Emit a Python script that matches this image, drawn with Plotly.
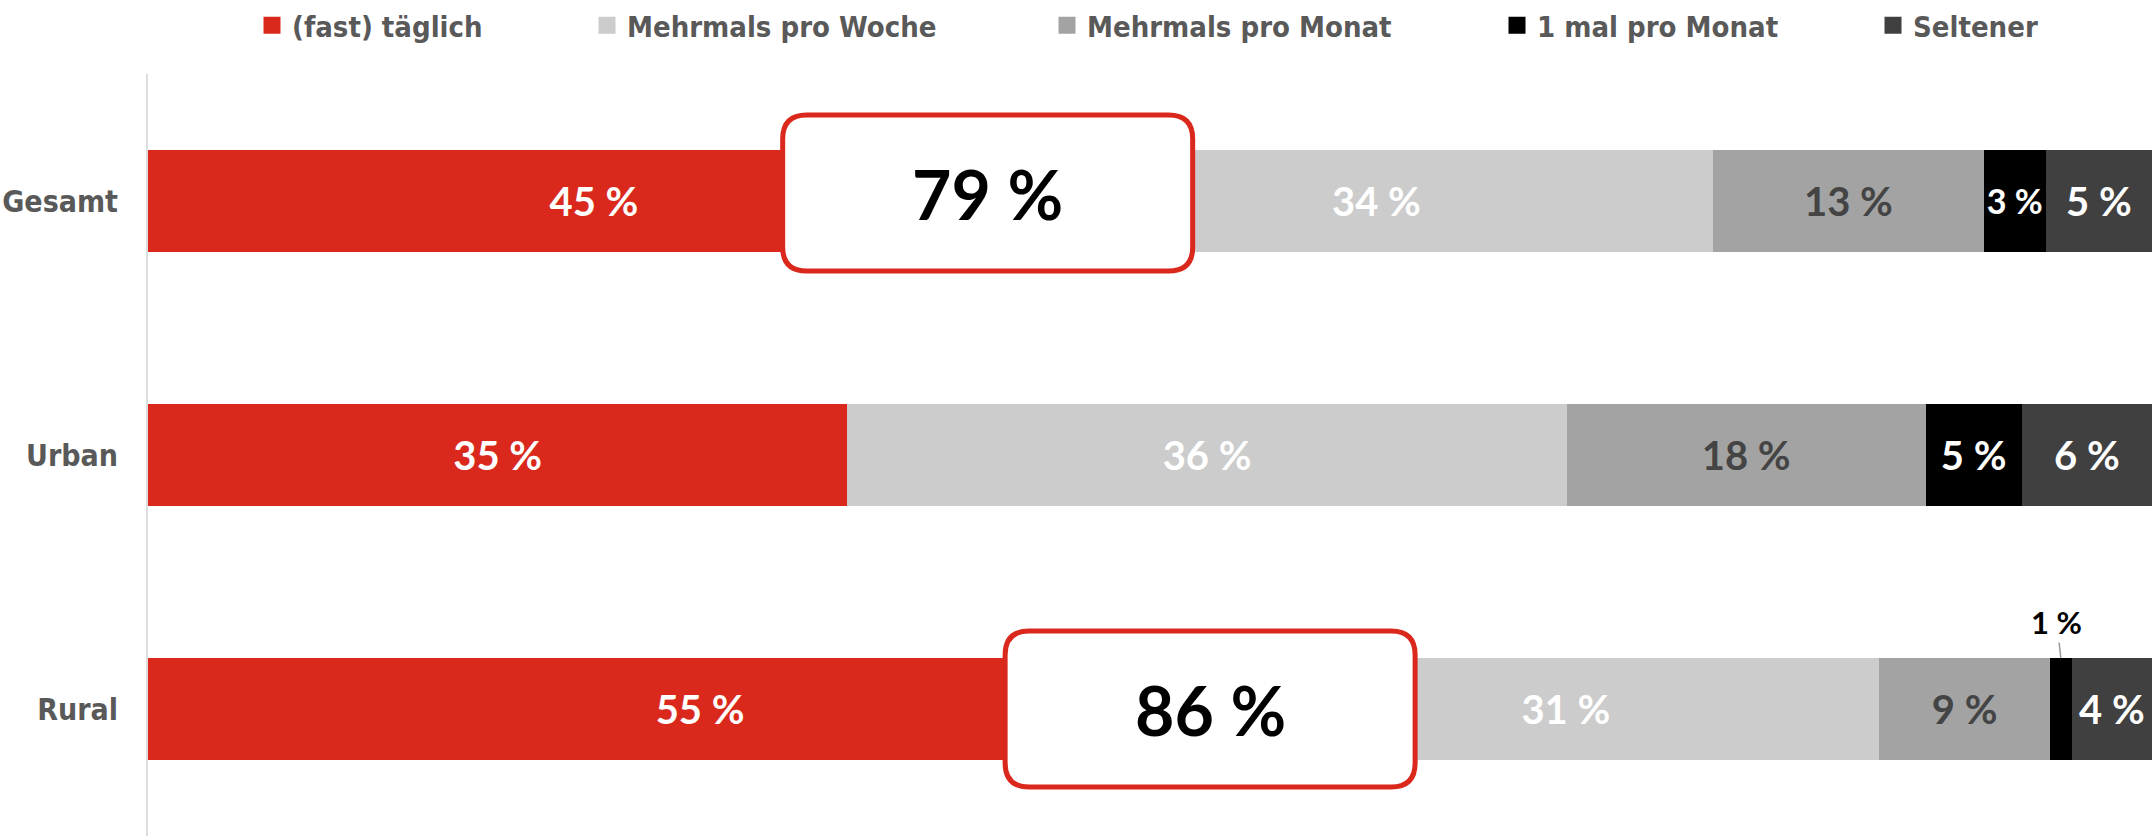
import plotly.graph_objects as go

# ---------------- data ----------------
categories = ["Gesamt", "Urban", "Rural"]
series_names = ["(fast) täglich", "Mehrmals pro Woche", "Mehrmals pro Monat",
                "1 mal pro Monat", "Seltener"]
# segment shares (as drawn)
daily = [44.5, 34.9, 55.1]
weekly = [33.6, 35.9, 31.3]
monthly = [13.5, 17.9, 8.5]
once_month = [3.1, 4.8, 1.1]
rarer = [5.3, 6.5, 4.0]
series_values = [daily, weekly, monthly, once_month, rarer]

# printed (rounded) labels
daily_lbl = [45, 35, 55]
weekly_lbl = [34, 36, 31]
monthly_lbl = [13, 18, 9]
once_month_lbl = [3, 5, 1]
rarer_lbl = [5, 6, 4]
series_labels = [daily_lbl, weekly_lbl, monthly_lbl, once_month_lbl, rarer_lbl]

highlight_categories = ["Gesamt", "Rural"]

# ---------------- styles ----------------
colors = ["#DA291C", "#CCCCCC", "#A3A3A3", "#000000", "#404040"]
label_colors = ["#FFFFFF", "#FFFFFF", "#444444", "#FFFFFF", "#FFFFFF"]
legend_widths = [290, 415, 405, 331, 150]
COND = "DejaVu Sans Condensed, Liberation Sans Narrow, Roboto Condensed, Roboto, sans-serif"
GEO = "Lato, Inter, sans-serif"
GREY_TXT = "#595959"
RED = "#DA291C"

fig = go.Figure()
for name, vals, lbls, col, lcol in zip(series_names, series_values, series_labels,
                                       colors, label_colors):
    fig.add_trace(go.Bar(
        y=categories, x=vals, name=name, orientation="h",
        marker=dict(color=col, line=dict(width=0)),
        text=[f"{l} %" if v >= 2 else "" for v, l in zip(vals, lbls)],
        textposition="inside", insidetextanchor="middle", textangle=0,
        textfont=dict(family=GEO, size=40, color=lcol, weight="bold"),
        showlegend=False, hoverinfo="skip", legendgroup=name,
    ))

# legend entries (larger square swatches)
for name, col, lw in zip(series_names, colors, legend_widths):
    fig.add_trace(go.Bar(
        y=[None], x=[None], name=name, orientation="h",
        marker=dict(color=col, line=dict(color=col, width=5)),
        showlegend=True, legendwidth=lw, hoverinfo="skip", legendgroup=name,
    ))

# highlight boxes: sum of first two series
box_centers = {"Gesamt": 41.9, "Rural": 53.0}
box_dy = {"Gesamt": 8, "Rural": 0}
w, h, r = 205, 78, 24
for cat in highlight_categories:
    i = categories.index(cat)
    total = daily_lbl[i] + weekly_lbl[i]
    dy = box_dy[cat]
    path = (f"M{-w + r},{-h + dy} L{w - r},{-h + dy} Q{w},{-h + dy} {w},{-h + r + dy} "
            f"L{w},{h - r + dy} Q{w},{h + dy} {w - r},{h + dy} L{-w + r},{h + dy} "
            f"Q{-w},{h + dy} {-w},{h - r + dy} L{-w},{-h + r + dy} Q{-w},{-h + dy} {-w + r},{-h + dy} Z")
    fig.add_shape(type="path", xref="x", yref="y", xsizemode="pixel", ysizemode="pixel",
                  xanchor=box_centers[cat], yanchor=i, path=path,
                  fillcolor="white", line=dict(color=RED, width=5), layer="above")
    fig.add_annotation(x=box_centers[cat], y=cat, text=f"{total} %", showarrow=False,
                       yshift=dy, font=dict(family=GEO, size=68, color="#000000", weight="bold"))

# small label for tiny segment
for i, cat in enumerate(categories):
    v = once_month[i]
    if v < 2:
        xc = daily[i] + weekly[i] + monthly[i] + v / 2
        fig.add_annotation(x=xc, y=i - 0.2, text=f"{once_month_lbl[i]} %", showarrow=True,
                           arrowhead=0, arrowwidth=1.5, arrowcolor="#9a9a9a",
                           ax=-4, ay=-36, standoff=0,
                           font=dict(family=GEO, size=31, color="#000000", weight="bold"))

fig.update_layout(
    width=2152, height=836,
    barmode="stack", bargap=0.6,
    margin=dict(l=148, r=0, t=74, b=0),
    paper_bgcolor="white", plot_bgcolor="white",
    showlegend=True,
    legend=dict(orientation="h", traceorder="normal", xref="container", yref="container",
                x=252 / 2152, y=1.0, xanchor="left", yanchor="top",
                font=dict(family=COND, size=29, color=GREY_TXT, weight="bold"),
                itemclick=False, itemdoubleclick=False),
    xaxis=dict(range=[0, 100], visible=False, fixedrange=True),
    yaxis=dict(autorange="reversed", showline=True, linecolor="#DDDDDD", linewidth=2,
               showgrid=False, zeroline=False, ticks="", ticklabelstandoff=22,
               categoryorder="array", categoryarray=categories,
               tickfont=dict(family=COND, size=30, color=GREY_TXT, weight="bold"),
               fixedrange=True),
)

fig.write_html("out.html", config={"displayModeBar": False},
               post_script="document.body.style.margin='0';")
